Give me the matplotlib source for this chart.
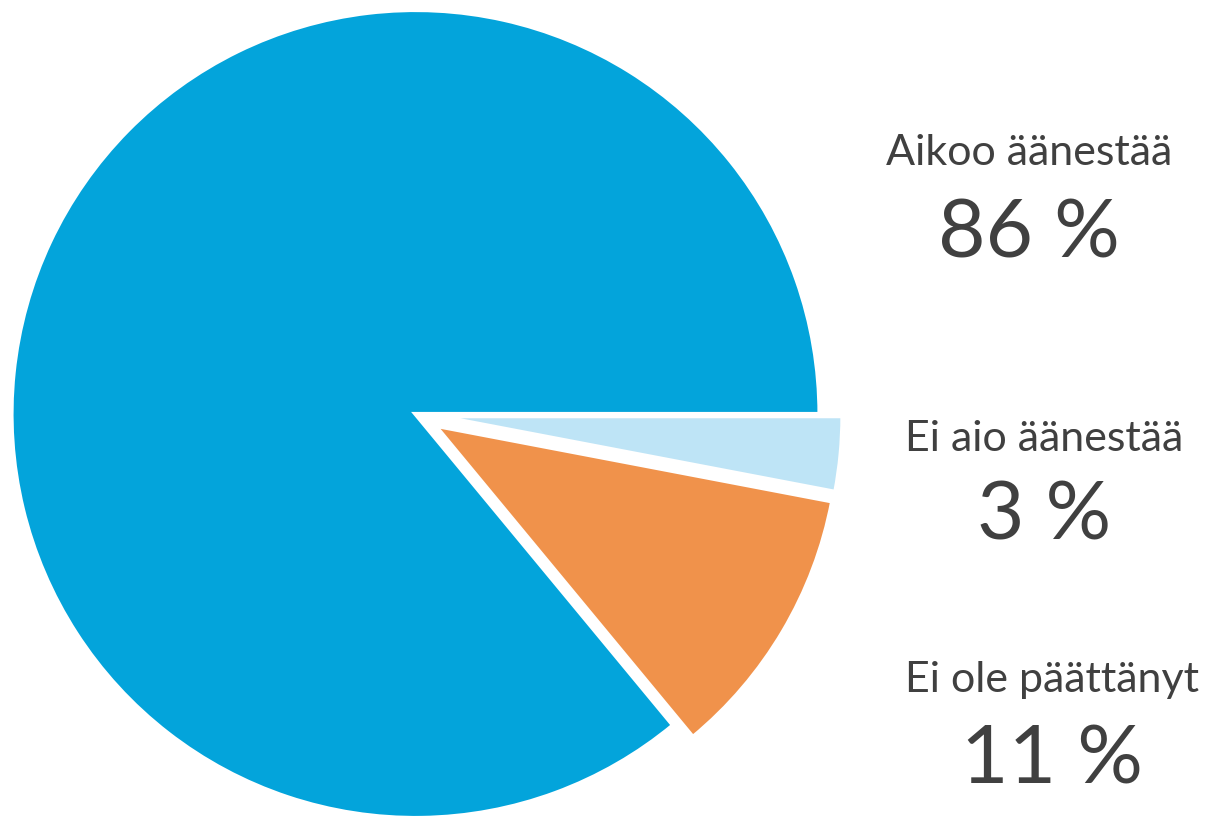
import matplotlib
matplotlib.use("Agg")
from matplotlib import pyplot as plt

# Datos (orden de dibujo: en sentido antihorario desde las 3 en punto)
categorias = ["Aikoo äänestää", "Ei ole päättänyt", "Ei aio äänestää"]
valores = [86, 11, 3]
colores = ["#03A4DB", "#F0924B", "#BEE4F6"]
separacion = [0.0, 0.057, 0.057]

# Orden de las etiquetas a la derecha
orden_etiquetas = ["Aikoo äänestää", "Ei aio äänestää", "Ei ole päättänyt"]

plt.rcParams['font.family'] = ['Lato', 'DejaVu Sans']
texto_color = "#404040"

fig = plt.figure(figsize=(12.12, 8.16), dpi=100)
W, H = 1212, 816

# Centro del pastel ~ (415.5, 414) px, radio ~ 404 px
cx, cy, r = 415.5, 414, 404
ax = fig.add_axes([(cx - r) / W, (H - cy - r) / H, 2 * r / W, 2 * r / H])
ax.pie(valores, colors=colores, explode=separacion, startangle=0,
       counterclock=True, radius=1.0,
       wedgeprops=dict(edgecolor="white", linewidth=3))
ax.set_xlim(-1, 1)
ax.set_ylim(-1, 1)
ax.set_aspect("equal")
ax.axis("off")
for p in ax.patches:
    p.set_clip_on(False)

# Etiquetas: (x centro, y base del nombre, y base del porcentaje) en px
posiciones = {
    "Aikoo äänestää": (1029, 165, 257),
    "Ei aio äänestää": (1044, 451, 540),
    "Ei ole päättänyt": (1052, 692, 783),
}
for nombre in orden_etiquetas:
    valor = valores[categorias.index(nombre)]
    x, y1, y2 = posiciones[nombre]
    fig.text(x / W, 1 - y1 / H, nombre, ha="center", va="baseline",
             fontsize=31, color=texto_color)
    fig.text(x / W, 1 - y2 / H, f"{valor} %", ha="center", va="baseline",
             fontsize=59, color=texto_color)

fig.savefig("out.png", dpi=100)
